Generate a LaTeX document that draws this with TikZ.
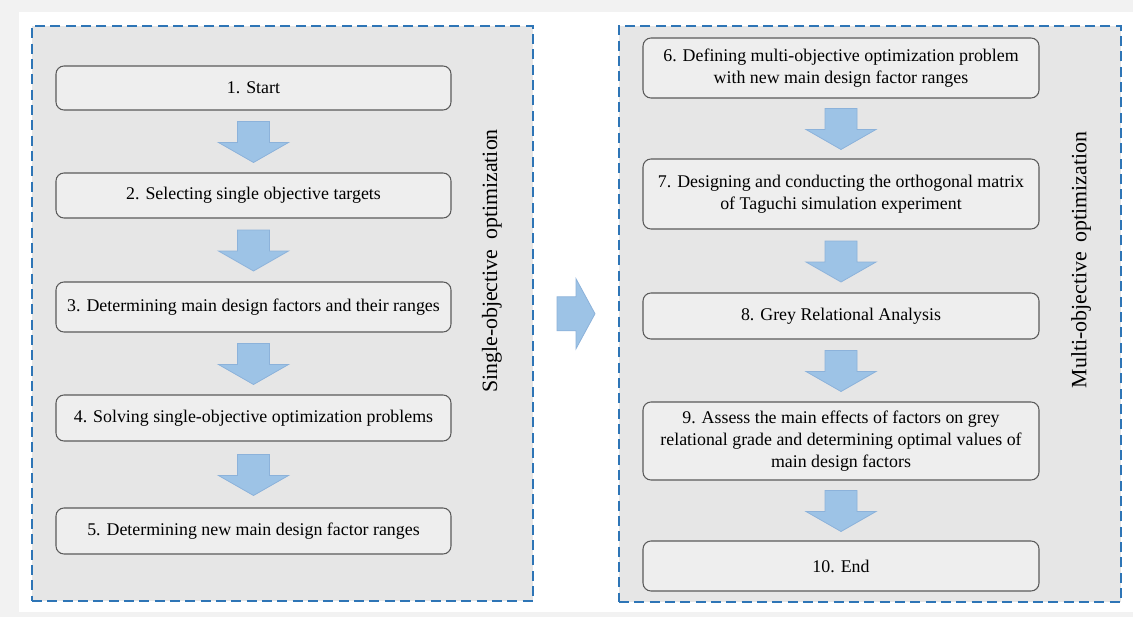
\documentclass[tikz,border=0pt]{standalone}
\usepackage{fontspec}
\setmainfont{Liberation Serif}
\usetikzlibrary{calc}
\definecolor{dashblue}{RGB}{46,117,182}
\definecolor{groupfill}{RGB}{230,230,230}
\definecolor{boxfill}{RGB}{238,238,238}
\definecolor{boxline}{RGB}{90,90,90}
\definecolor{arrfill}{RGB}{157,195,230}
\definecolor{arrline}{RGB}{140,178,218}
\definecolor{pagegrey}{RGB}{242,242,242}
\tikzset{
  group/.style={draw=dashblue, fill=groupfill, line width=1.9pt, dash pattern=on 7.5pt off 4pt, inner sep=0pt},
  stepbox/.style={draw=boxline, fill=boxfill, line width=0.8pt, rounded corners=6pt, inner sep=0pt, align=center,
    font=\fontsize{13.4pt}{16.5pt}\selectfont},
  sidelabel/.style={rotate=90, font=\fontsize{16.4pt}{19pt}\selectfont},
  barrow/.style={fill=arrfill, draw=arrline, line width=0.6pt}
}
% #1 name, #2 x1, #3 y1, #4 x2, #5 y2 (pixels), #6 style, #7 text
\newcommand\placebox[7]{\node[#6, minimum width={(#4-#2)*0.75pt}, minimum height={(#5-#3)*0.75pt}] (#1) at ({(#2+#4)/2},{(#3+#5)/2}) {#7};}
\newcommand\downarr[2]{\draw[barrow] ($(#1.south)!.5!(#2.north)$) ++(-16,-20) -- ++(32,0) -- ++(0,21) -- ++(19,0) -- ++(-35,20) -- ++(-35,-20) -- ++(19,0) -- cycle;}
\begin{document}
\begin{tikzpicture}[x=0.75pt,y=-0.75pt]
\useasboundingbox (0,0) rectangle (1133,617);
\fill[pagegrey] (0,0) rectangle (1133,617);
\fill[white] (19,12) rectangle (1133,612);
% groups
\placebox{L}{32}{26}{533}{601}{group}{}
\placebox{R}{619}{26}{1121}{602}{group}{}
\node[sidelabel] (Llab) at (492,261) {Single-objective\hspace{0.45em}optimization};
\node[sidelabel] (Rlab) at (1081,260) {Multi-objective\hspace{0.45em}optimization};
% left column
\placebox{b1}{56}{66}{451}{110}{stepbox}{1. Start}
\placebox{b2}{56}{173}{451}{218}{stepbox}{2. Selecting single objective targets}
\placebox{b3}{56}{282}{451}{332}{stepbox}{3. Determining main design factors and their ranges}
\placebox{b4}{56}{395}{451}{441}{stepbox}{4. Solving single-objective optimization problems}
\placebox{b5}{56}{508}{451}{554}{stepbox}{5. Determining new main design factor ranges}
% right column
\placebox{b6}{643}{38}{1039}{98}{stepbox}{6. Defining multi-objective optimization problem\\with new main design factor ranges}
\placebox{b7}{643}{159}{1039}{229}{stepbox}{7. Designing and conducting the orthogonal matrix\\of Taguchi simulation experiment}
\placebox{b8}{643}{293}{1039}{339}{stepbox}{8. Grey Relational Analysis}
\placebox{b9}{643}{402}{1039}{480}{stepbox}{9. Assess the main effects of factors on grey\\relational grade and determining optimal values of\\main design factors}
\placebox{b10}{643}{541}{1039}{591}{stepbox}{10. End}
% arrows
\downarr{b1}{b2}
\downarr{b2}{b3}
\downarr{b3}{b4}
\downarr{b4}{b5}
\downarr{b6}{b7}
\downarr{b7}{b8}
\downarr{b8}{b9}
\downarr{b9}{b10}
\draw[barrow] ($(L.east)!.5!(R.west)$) ++(-19,-17) -- ++(19,0) -- ++(0,-18) -- ++(19,35) -- ++(-19,35) -- ++(0,-18) -- ++(-19,0) -- cycle;
\end{tikzpicture}
\end{document}
